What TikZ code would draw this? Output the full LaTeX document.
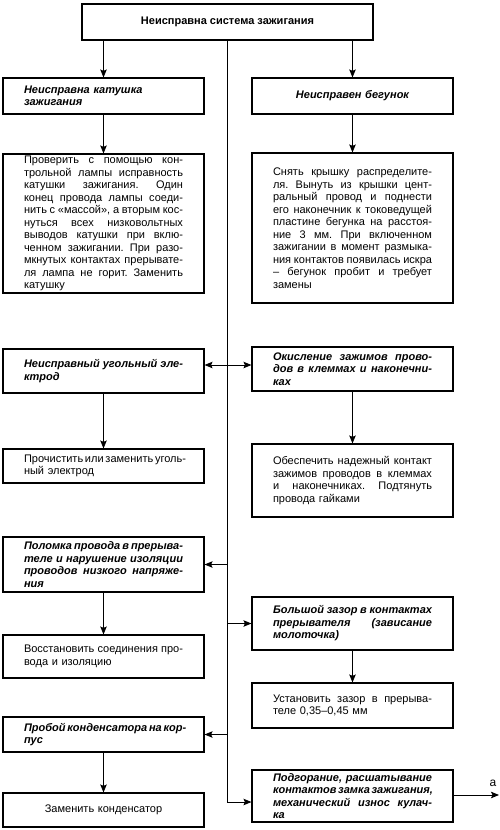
\documentclass[tikz,border=0pt]{standalone}
\usepackage{fontspec}
\setmainfont{Liberation Sans}
\usetikzlibrary{arrows.meta}
\newcommand\jl[1]{\leavevmode\hbox to\hsize{\frenchspacing\spaceskip=.28em plus 3em minus .12em\relax #1}\\}
\tikzset{
  boxbase/.style={draw, line width=1.1pt, minimum width=201pt, text width=159pt,
    inner xsep=0pt, inner ysep=1pt, align=left},
  fault/.style={boxbase, font=\fontsize{11}{12.5}\selectfont\bfseries\itshape},
  act/.style={boxbase, font=\fontsize{11}{12.5}\selectfont},
  conn/.style={line width=0.9pt, -{Stealth[length=8pt,width=6.5pt,inset=1.5pt]}},
  dconn/.style={line width=0.9pt, {Stealth[length=8pt,width=6.5pt,inset=1.5pt]}-{Stealth[length=8pt,width=6.5pt,inset=1.5pt]}},
}
\begin{document}
\begin{tikzpicture}[x=1pt,y=-1pt]
\useasboundingbox[fill=white] (0,0) rectangle (500,830);
% top
\node[draw, line width=1.1pt, minimum width=291pt, minimum height=36pt,
  font=\fontsize{11}{12.5}\selectfont\bfseries] (top) at (227.5,22) {Неисправна система зажигания};
% left column
\node[fault, minimum height=36pt] (L1) at (103.5,96) {Неисправна катушка\\зажигания};
\node[act, minimum height=139pt] (L2) at (103.5,223.5) {%
\jl{Проверить с помощью кон-}%
\jl{трольной лампы исправность}%
\jl{катушки зажигания. Один}%
\jl{конец провода лампы соеди-}%
\jl{нить с «массой», а вторым кос-}%
\jl{нуться всех низковольтных}%
\jl{выводов катушки при вклю-}%
\jl{ченном зажигании. При разо-}%
\jl{мкнутых контактах прерывате-}%
\jl{ля лампа не горит. Заменить}%
катушку};
\node[fault, minimum height=44pt] (L3) at (103.5,371) {\jl{Неисправный угольный эле-}ктрод};
\node[act, minimum height=34pt] (L4) at (103.5,466) {\jl{Прочистить или заменить уголь-}ный электрод};
\node[fault, minimum height=55pt] (L5) at (103.5,564.5) {%
\jl{Поломка провода в прерыва-}%
\jl{теле и нарушение изоляции}%
\jl{проводов низкого напряже-}%
ния};
\node[act, minimum height=43pt] (L6) at (103.5,656.5) {\jl{Восстановить соединения про-}вода и изоляцию};
\node[fault, minimum height=35pt] (L7) at (103.5,734.5) {\jl{Пробой конденсатора на кор-}пус};
\node[act, minimum height=34pt, align=center] (L8) at (103.5,810) {Заменить конденсатор};
% right column
\node[fault, minimum height=36pt, align=center] (R1) at (352.5,96) {Неисправен бегунок};
\node[act, minimum height=150pt] (R2) at (352.5,228) {%
\jl{Снять крышку распределите-}%
\jl{ля. Вынуть из крышки цент-}%
\jl{ральный провод и поднести}%
\jl{его наконечник к токоведущей}%
\jl{пластине бегунка на расстоя-}%
\jl{ние 3 мм. При включенном}%
\jl{зажигании в момент размыка-}%
\jl{ния контактов появилась искра}%
\jl{– бегунок пробит и требует}%
замены};
\node[fault, minimum height=44pt] (R3) at (352.5,369) {%
\jl{Окисление зажимов прово-}%
\jl{дов в клеммах и наконечни-}%
ках};
\node[act, minimum height=73pt] (R4) at (352.5,480.5) {%
\jl{Обеспечить надежный контакт}%
\jl{зажимов проводов в клеммах}%
\jl{и наконечниках. Подтянуть}%
провода гайками};
\node[fault, minimum height=53pt] (R5) at (352.5,623.5) {%
\jl{Большой зазор в контактах}%
\jl{прерывателя (зависание}%
молоточка)};
\node[act, minimum height=45pt] (R6) at (352.5,705.5) {\jl{Установить зазор в прерыва-}теле 0,35–0,45 мм};
\node[fault, minimum height=52pt] (R7) at (352.5,796) {%
\jl{Подгорание, расшатывание}%
\jl{контактов замка зажигания,}%
\jl{механический износ кулач-}%
ка};
\node[font=\fontsize{12}{12}\selectfont, inner sep=0pt] (alab) at (493,783) {а};
\coordinate (aend) at (499,795);
% connectors
\draw[conn] (L1.north |- top.south) -- (L1.north);
\draw[conn] (R1.north |- top.south) -- (R1.north);
\draw[conn] (top.south) |- ([yshift=-6pt]R7.west);
\draw[conn] (L1.south) -- (L2.north);
\draw[conn] (R1.south) -- (R2.north);
\draw[dconn] ([yshift=6pt]L3.east) -- ([yshift=6pt]L3.east -| R3.west);
\draw[conn] (L3.south) -- (L4.north);
\draw[conn] (R3.south) -- (R4.north);
\draw[conn] (L5.east -| top.south) -- (L5.east);
\draw[conn] (L5.south) -- (L6.north);
\draw[conn] (R5.west -| top.south) -- (R5.west);
\draw[conn] (R5.south) -- (R6.north);
\draw[conn] (L7.east -| top.south) -- (L7.east);
\draw[conn] (L7.south) -- (L8.north);
\draw[conn] ([yshift=1pt]R7.east) -- ([yshift=1pt]R7.east -| aend);
\end{tikzpicture}
\end{document}
